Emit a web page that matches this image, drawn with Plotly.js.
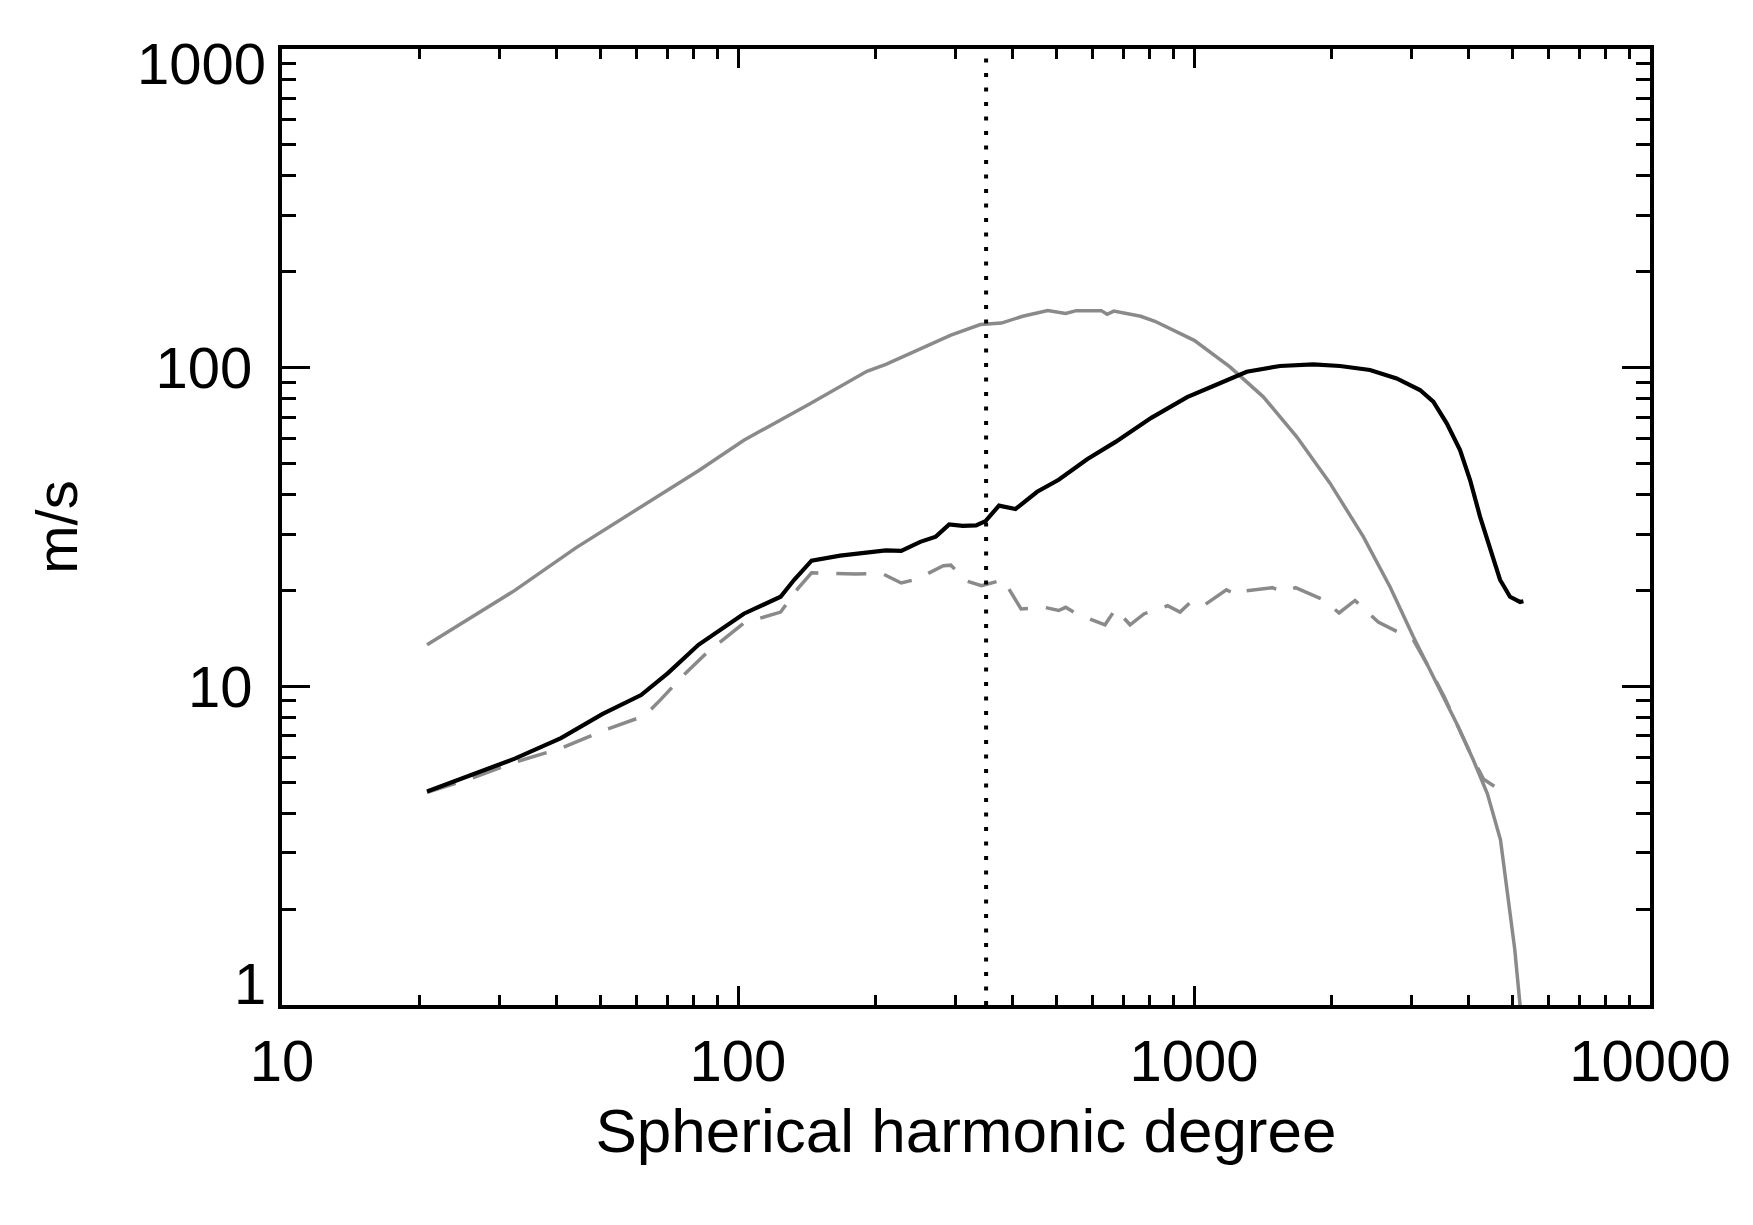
<!DOCTYPE html>
<html>
<head>
<meta charset="utf-8">
<script src="https://cdn.plot.ly/plotly-3.0.1.min.js"></script>
<style>
  html, body { margin: 0; padding: 0; background: #fff; }
  #plotdiv { width: 1753px; height: 1225px; }
</style>
</head>
<body>
<div id="plotdiv"></div>
<script>
'use strict'
/* global Plotly */

// grey solid curve
const modelDegree = [20.8, 32.4, 44.1, 60.1, 81.9, 103, 143.5, 191.7, 211, 293, 340, 378, 421, 478, 523, 552, 626, 645, 667, 764, 821, 1001, 1199, 1419, 1680, 1987, 2351, 2692, 3027, 3406, 3767, 4098, 4400, 4700, 4870, 5050, 5188, 5240]
const modelSpeed = [13.5, 20.0, 27.2, 36.0, 47.5, 59.2, 76.9, 97.4, 102.4, 126.5, 136.5, 138, 145, 151, 148, 151, 151, 147, 150.5, 145, 139.8, 121.8, 100.6, 81.0, 60.7, 43.4, 29.5, 20.5, 14.3, 10.2, 7.65, 5.87, 4.6, 3.3, 2.2, 1.5, 1.0, 0.8]

// black solid curve
const totalDegree = [20.8, 25.7, 32.4, 40.9, 50.5, 61.3, 70.2, 81.9, 103, 124, 132.8, 145, 167.5, 211, 228, 251, 271.5, 290.5, 310.9, 332.7, 349, 373.5, 406, 453, 505, 583, 673, 806, 966, 1116, 1199, 1305, 1544, 1826, 2090, 2432, 2782, 3130, 3348, 3583, 3832, 4031, 4239, 4458, 4689, 4932, 5188, 5277]
const totalSpeed = [4.68, 5.23, 5.93, 6.88, 8.19, 9.39, 11.0, 13.5, 16.9, 19.1, 21.6, 24.8, 25.7, 26.7, 26.6, 28.4, 29.5, 32.2, 31.9, 32.0, 33.0, 36.9, 36.0, 40.8, 44.5, 51.6, 58.5, 69.6, 80.8, 88.2, 92.5, 97.1, 101.2, 102.4, 101.2, 98.3, 92.5, 85.1, 78.2, 66.9, 55.1, 44.4, 34.1, 26.8, 21.6, 19.1, 18.4, 18.5]

// grey dashed curve
const dashDegree = [20.8, 25.7, 32.4, 40.9, 51.5, 62.5, 67.5, 75.8, 85.2, 103, 124, 135.4, 145, 167.5, 181, 207, 228, 246.5, 282, 293, 317, 342, 381.6, 417.6, 469.6, 505, 523, 552, 638, 673, 724, 778, 875, 932, 984, 1048, 1178, 1243, 1289, 1483, 1580, 1670, 1920, 2080, 2255, 2535, 2870, 3027, 3292, 3538, 3803, 4089, 4316, 4556]
const dashSpeed = [4.65, 5.11, 5.78, 6.39, 7.33, 8.09, 9.05, 10.8, 12.7, 15.8, 17.1, 20.3, 22.7, 22.6, 22.5, 22.6, 21.1, 21.7, 23.9, 24.0, 21.4, 20.7, 21.6, 17.5, 17.7, 17.3, 17.7, 16.9, 15.6, 17.5, 15.6, 16.9, 17.9, 17.1, 18.4, 17.9, 20.1, 19.3, 19.9, 20.4, 19.8, 20.4, 18.7, 17.0, 18.6, 15.9, 14.5, 14.0, 11.3, 9.28, 7.42, 5.93, 5.11, 4.86]

// vertical dotted marker
const cutoffDegree = 350

// axis ticks
const xTicks = [10, 100, 1000, 10000]
const xTickText = ['10', '100', '1000', '10000']
const yTicks = [1, 10, 100, 1000]
const yTickText = ['', '10', '100', '']
// end labels sit inside the axis span, as in the original
const yEndLabels = [{v: 1, text: '1', shift: 22}, {v: 1000, text: '1000', shift: -14}]

function minorTicks (lo, hi) {
  let out = []
  for (let d = lo; d < hi; d *= 10) {
    for (let k = 2; k <= 9; k++) out.push(k * d)
  }
  return out
}

const FONT = 'Liberation Sans, Arial, Helvetica, sans-serif'
const GREY = '#8a8a8a'
const tickFont = {family: FONT, size: 58, color: 'black'}

let plotdata = [
  {x: modelDegree, y: modelSpeed, mode: 'lines', line: {color: GREY, width: 3.5}},
  {x: dashDegree, y: dashSpeed, mode: 'lines', line: {color: GREY, width: 3.5, dash: '30px,18px'}},
  {x: totalDegree, y: totalSpeed, mode: 'lines', line: {color: 'black', width: 4.2}}
]

let axisBase = {
  type: 'log',
  showgrid: false,
  zeroline: false,
  showline: true,
  linecolor: 'black',
  linewidth: 4,
  mirror: 'allticks',
  ticks: 'inside',
  tickwidth: 3,
  tickcolor: 'black',
  tickfont: tickFont
}

let annotations = yEndLabels.map(function (lab) {
  return {
    xref: 'paper', yref: 'y', x: 0, y: Math.log10(lab.v),
    text: lab.text, showarrow: false, font: tickFont,
    xanchor: 'right', yanchor: 'middle', xshift: -14, yshift: lab.shift
  }
})

let layout = {
  width: 1753,
  height: 1225,
  margin: {l: 282, r: 103, t: 49, b: 220},
  paper_bgcolor: 'white',
  plot_bgcolor: 'white',
  showlegend: false,
  hovermode: false,
  xaxis: Object.assign({}, axisBase, {
    range: [1, 4],
    tickvals: xTicks,
    ticktext: xTickText,
    ticklen: 19,
    ticklabelstandoff: 2,
    minor: {tickvals: minorTicks(10, 10000), ticklen: 10, tickwidth: 3, tickcolor: 'black', ticks: 'inside'},
    title: {text: 'Spherical harmonic degree', font: {family: FONT, size: 62, color: 'black'}, standoff: 18}
  }),
  yaxis: Object.assign({}, axisBase, {
    range: [0, 3],
    tickvals: yTicks,
    ticktext: yTickText,
    ticklen: 28,
    ticklabelstandoff: 14,
    minor: {tickvals: minorTicks(1, 1000), ticklen: 14, tickwidth: 3, tickcolor: 'black', ticks: 'inside'},
    title: {text: 'm/s', font: {family: FONT, size: 58, color: 'black'}, standoff: 60}
  }),
  annotations: annotations,
  shapes: [{
    type: 'line', xref: 'x', yref: 'paper',
    x0: cutoffDegree, x1: cutoffDegree, y0: 0, y1: 1,
    line: {color: 'black', width: 4, dash: '4px,10.5px'}
  }]
}

let config = {displaylogo: false, displayModeBar: false, staticPlot: true}

Plotly.newPlot('plotdiv', plotdata, layout, config)
</script>
</body>
</html>
